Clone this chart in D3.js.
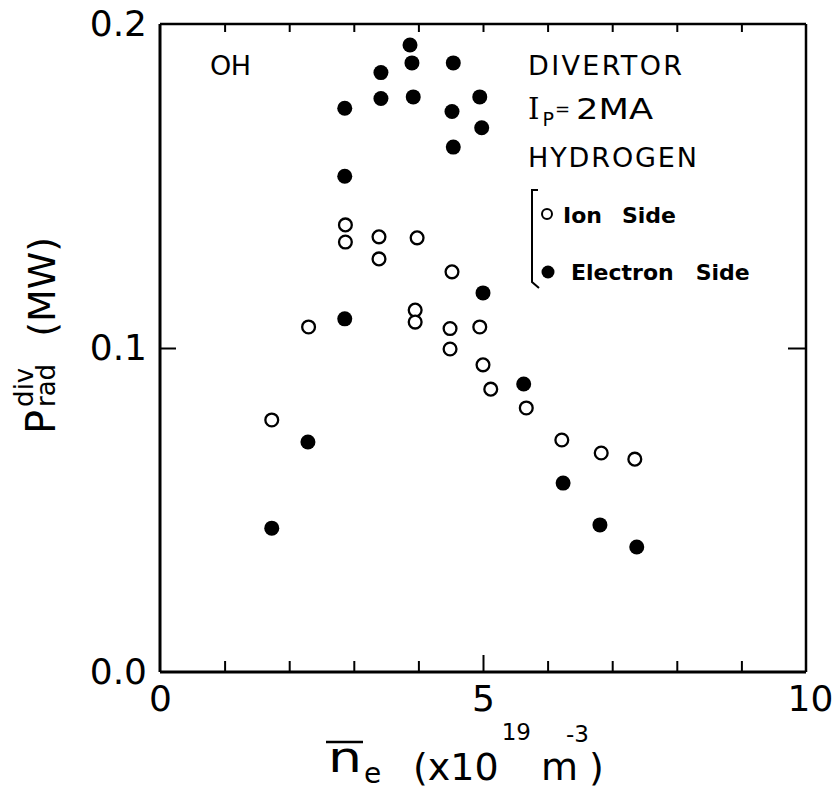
<!DOCTYPE html>
<html>
<head>
<meta charset="utf-8">
<script src="https://cdn.jsdelivr.net/npm/d3@7"></script>
<style>
  html, body { margin: 0; padding: 0; background: #fff; }
  svg { display: block; }
  text { font-family: "DejaVu Sans", sans-serif; fill: #000; }
</style>
</head>
<body>
<svg id="chart" width="836" height="794"></svg>
<script>
// ---- data ----
const ionX = [1.73, 2.30, 2.87, 2.87, 3.39, 3.39, 3.98, 3.95, 3.95, 4.52, 4.49, 4.49, 4.95, 5.00, 5.12, 5.67, 6.22, 6.83, 7.35];
const ionY = [0.0778, 0.1065, 0.138, 0.1327, 0.1343, 0.1275, 0.134, 0.1117, 0.108, 0.1235, 0.106, 0.0997, 0.1065, 0.0948, 0.0873, 0.0815, 0.0716, 0.0676, 0.0657];

const elecX = [1.73, 2.29, 2.86, 2.86, 2.86, 3.42, 3.42, 3.87, 3.90, 3.92, 4.54, 4.52, 4.54, 4.95, 4.98, 5.00, 5.63, 6.24, 6.81, 7.38];
const elecY = [0.0444, 0.071, 0.109, 0.153, 0.174, 0.177, 0.185, 0.1935, 0.188, 0.1775, 0.188, 0.173, 0.162, 0.1775, 0.168, 0.117, 0.0889, 0.0583, 0.0454, 0.0386];

const xMajorTicks = [0, 5, 10];
const xMinorTicks = [1, 2, 3, 4, 5, 6, 7, 8, 9];
const yTicks = [0.0, 0.1, 0.2];
const yInnerTicks = [0.1];

// ---- layout ----
const svg = d3.select("#chart");
const L = 160, R = 806, T = 24, B = 672;
const x = d3.scaleLinear().domain([0, 10]).range([L, R]);
const y = d3.scaleLinear().domain([0, 0.2]).range([B, T]);

// frame
const frame = svg.append("g").attr("fill", "none").attr("stroke", "#000");
frame.append("line").attr("x1", L).attr("x2", L).attr("y1", T).attr("y2", B).attr("stroke-width", 3);
frame.append("line").attr("x1", L).attr("x2", R).attr("y1", B).attr("y2", B).attr("stroke-width", 3);
frame.append("line").attr("x1", R).attr("x2", R).attr("y1", T).attr("y2", B).attr("stroke-width", 2.5);
frame.append("line").attr("x1", L).attr("x2", R).attr("y1", T).attr("y2", T).attr("stroke-width", 2.5);

// bottom minor/major ticks (inward)
const bt = svg.append("g").attr("transform", `translate(0,${B})`)
  .call(d3.axisBottom(x).tickValues(xMinorTicks).tickSize(-11).tickFormat(""));
bt.select(".domain").remove();
bt.selectAll(".tick line").attr("stroke-width", 2)
  .attr("y2", d => d === 5 ? -17 : -11);

// top ticks (inward)
const tt = svg.append("g").attr("transform", `translate(0,${T})`)
  .call(d3.axisTop(x).tickValues(xMinorTicks).tickSize(-8).tickFormat(""));
tt.select(".domain").remove();
tt.selectAll(".tick line").attr("stroke-width", 2);

// bottom labels
const bl = svg.append("g").attr("transform", `translate(0,${B})`)
  .call(d3.axisBottom(x).tickValues(xMajorTicks).tickSize(0).tickPadding(13).tickFormat(d3.format("d")));
bl.select(".domain").remove();
bl.selectAll("text").attr("font-size", 36).attr("font-family", "DejaVu Sans").attr("fill", "#000")
  .attr("dx", d => d === 10 ? 4 : 0);

// left axis
const la = svg.append("g").attr("transform", `translate(${L},0)`)
  .call(d3.axisLeft(y).tickValues(yTicks).tickSize(0).tickPadding(13).tickFormat(d3.format(".1f")));
la.select(".domain").remove();
la.selectAll("text").attr("font-size", 36).attr("font-family", "DejaVu Sans").attr("fill", "#000");

const lt = svg.append("g").attr("transform", `translate(${L},0)`)
  .call(d3.axisLeft(y).tickValues(yInnerTicks).tickSize(-16).tickFormat(""));
lt.select(".domain").remove();
lt.selectAll(".tick line").attr("stroke-width", 2);

const rt = svg.append("g").attr("transform", `translate(${R},0)`)
  .call(d3.axisRight(y).tickValues(yInnerTicks).tickSize(-18).tickFormat(""));
rt.select(".domain").remove();
rt.selectAll(".tick line").attr("stroke-width", 2);

// data points
const ion = ionX.map((v, i) => ({x: v, y: ionY[i]}));
const elec = elecX.map((v, i) => ({x: v, y: elecY[i]}));

svg.append("g").selectAll("circle").data(elec).join("circle")
  .attr("cx", d => x(d.x)).attr("cy", d => y(d.y)).attr("r", 7.5)
  .attr("fill", "#000");

svg.append("g").selectAll("circle").data(ion).join("circle")
  .attr("cx", d => x(d.x)).attr("cy", d => y(d.y)).attr("r", 6.4)
  .attr("fill", "#fff").attr("stroke", "#000").attr("stroke-width", 2.3);

// annotations
svg.append("text").attr("x", 210).attr("y", 75).attr("font-size", 27)
  .attr("textLength", 41).attr("lengthAdjust", "spacing").text("OH");
svg.append("text").attr("x", 528).attr("y", 75).attr("font-size", 27)
  .attr("textLength", 154).attr("lengthAdjust", "spacing").text("DIVERTOR");

const ip = svg.append("text").attr("x", 528).attr("y", 119).attr("font-size", 29);
ip.append("tspan").attr("font-family", "DejaVu Serif").text("I");
ip.append("tspan").attr("font-size", 19).attr("dy", 7).attr("dx", 3).text("P");
ip.append("tspan").attr("font-size", 18).attr("dy", -11).attr("dx", 1).text("=");
ip.append("tspan").attr("dy", 4).attr("dx", 6).attr("textLength", 77).attr("lengthAdjust", "spacingAndGlyphs").text("2MA");

svg.append("text").attr("x", 528).attr("y", 167).attr("font-size", 27)
  .attr("textLength", 169).attr("lengthAdjust", "spacing").text("HYDROGEN");

// legend
svg.append("path")
  .attr("d", "M538,190 L532,190 L532,282 L539,288")
  .attr("fill", "none").attr("stroke", "#000").attr("stroke-width", 2);
svg.append("circle").attr("cx", 547).attr("cy", 214).attr("r", 5)
  .attr("fill", "#fff").attr("stroke", "#000").attr("stroke-width", 2);
svg.append("circle").attr("cx", 548).attr("cy", 272).attr("r", 6.5).attr("fill", "#000");
const t1 = svg.append("text").attr("x", 563).attr("y", 223).attr("font-size", 22).attr("font-weight", "bold");
t1.append("tspan").text("Ion");
t1.append("tspan").attr("dx", 20).text("Side");
const t2 = svg.append("text").attr("x", 571).attr("y", 280).attr("font-size", 22).attr("font-weight", "bold");
t2.append("tspan").text("Electron");
t2.append("tspan").attr("dx", 22).text("Side");

// x axis title
const xt = svg.append("g");
xt.append("line").attr("x1", 326).attr("x2", 363).attr("y1", 742).attr("y2", 742)
  .attr("stroke", "#000").attr("stroke-width", 2.5);
xt.append("text").attr("x", 328).attr("y", 772).attr("font-size", 42)
  .attr("textLength", 34).attr("lengthAdjust", "spacingAndGlyphs").text("n");
xt.append("text").attr("x", 364).attr("y", 783).attr("font-size", 28).text("e");
const xu = xt.append("text").attr("x", 413).attr("y", 780).attr("font-size", 38);
xu.append("tspan").text("(x10");
xu.append("tspan").attr("font-size", 23).attr("dy", -40).attr("dx", 3).text("19");
xu.append("tspan").attr("dy", 40).attr("dx", 10).text("m");
xu.append("tspan").attr("font-size", 23).attr("dy", -38).attr("dx", -12).text("-3");
xu.append("tspan").attr("dy", 38).attr("dx", 0).text(")");

// y axis title
const yt = svg.append("g").attr("transform", "translate(55,434) rotate(-90)");
const yl = yt.append("text").attr("x", 0).attr("y", 0).attr("font-size", 40);
yl.append("tspan").text("P");
yl.append("tspan").attr("font-size", 26).attr("dy", -22).attr("dx", 3).text("div");
const yl2 = yt.append("text").attr("x", 27).attr("y", 0).attr("font-size", 26);
yl2.append("tspan").text("rad");
yl2.append("tspan").attr("font-size", 38).attr("dx", 27).text("(MW)");
</script>
</body>
</html>
